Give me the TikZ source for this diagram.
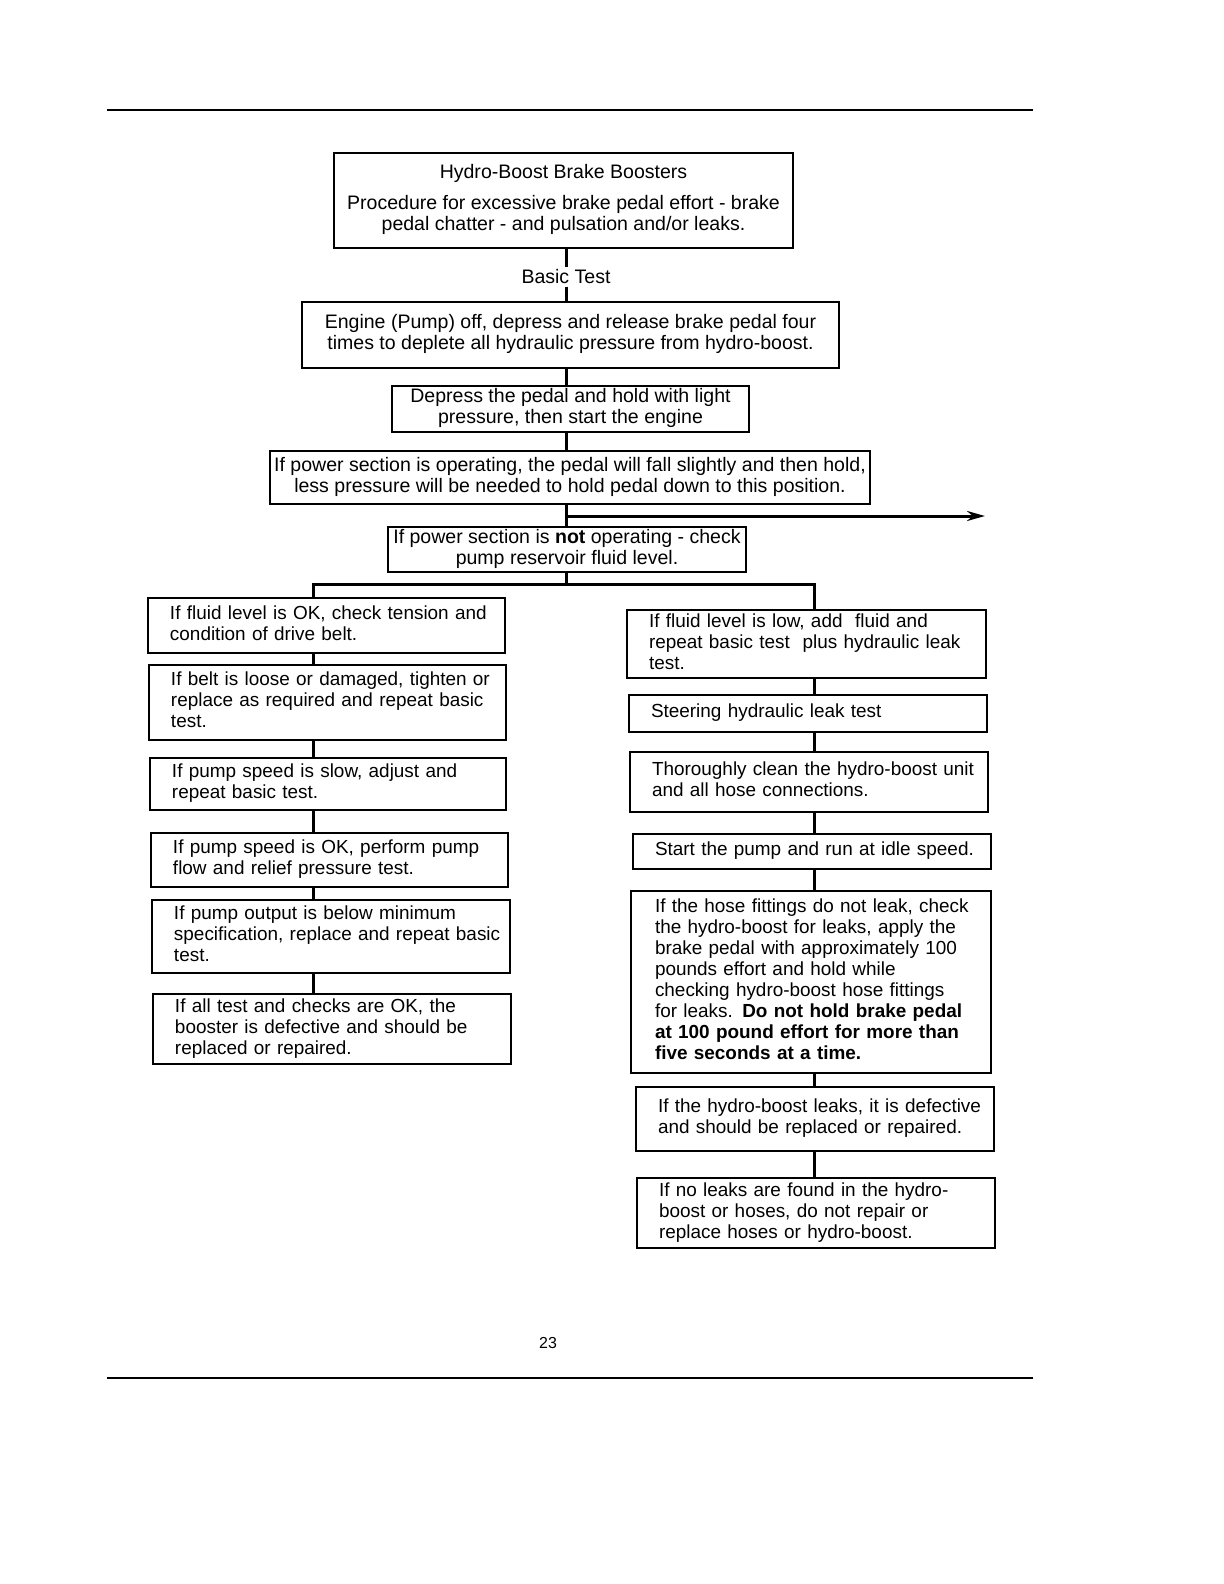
\documentclass[tikz,border=0pt]{standalone}
\usepackage{fontspec}
\setmainfont{Liberation Sans}
\usetikzlibrary{arrows.meta}
\newcommand{\fsz}{\fontsize{9.5}{10.5}\selectfont}
\newcommand{\fszc}{\fontsize{9.8}{10.5}\selectfont}
\newcommand{\tbl}[1]{\begin{tabular}{@{}l@{}}#1\end{tabular}}
\newcommand{\tbc}[1]{\begin{tabular}{@{}c@{}}#1\end{tabular}}
\tikzset{
  box/.style={draw, line width=0.8bp, inner sep=0pt, font=\fsz},
  lbox/.style={box, align=left},
  cbox/.style={box, align=center, font=\fszc},
  conn/.style={line width=1.5bp},
  rule/.style={line width=1bp},
}
\begin{document}
\begin{tikzpicture}[x=0.5bp,y=-0.5bp]
\useasboundingbox (0,0) rectangle (1224,1584);
% page rules
\coordinate (rt1) at (107,110); \coordinate (rt2) at (1033,110);
\coordinate (rb1) at (107,1378); \coordinate (rb2) at (1033,1378);
\draw[rule] (rt1) -- (rt2);
\draw[rule] (rb1) -- (rb2);
\node[font=\fontsize{8}{9}\selectfont] (pagenum) at (548,1343) {23};

% main column
\node[cbox, minimum width=229.5bp, minimum height=47.5bp] (title) at (563.5,200.5)
 {\tbc{Hydro-Boost Brake Boosters\\[5pt]Procedure for excessive brake pedal effort - brake\\pedal chatter - and pulsation and/or leaks.}};
\node[font=\fszc, inner sep=1pt] (basic) at (566,277) {Basic Test};
\node[cbox, minimum width=268.5bp, minimum height=33bp] (engine) at (570.5,335)
 {\tbc{Engine (Pump) off, depress and release brake pedal four\\times to deplete all hydraulic pressure from hydro-boost.}};
\node[cbox, minimum width=178.5bp, minimum height=23bp] (depress) at (570.5,409)
 {\tbc{Depress the pedal and hold with light\\pressure, then start the engine}};
\node[cbox, minimum width=300bp, minimum height=26.5bp] (power) at (570,477.5)
 {\tbc{If power section is operating, the pedal will fall slightly and then hold,\\less pressure will be needed to hold pedal down to this position.}};
\node[cbox, minimum width=179bp, minimum height=22.5bp] (notop) at (567,549.5)
 {\tbc{If power section is \textbf{not} operating - check\\pump reservoir fluid level.}};

% left column
\node[lbox, minimum width=178.5bp, minimum height=27.5bp, text width=156.5bp] (L1) at (326.5,625.5)
 {\tbl{If fluid level is OK, check tension and\\condition of drive belt.}};
\node[lbox, minimum width=178.5bp, minimum height=37.5bp, text width=156.5bp] (L2) at (327.5,702.5)
 {\tbl{If belt is loose or damaged, tighten or\\replace as required and repeat basic\\test.}};
\node[lbox, minimum width=178bp, minimum height=26bp, text width=156bp] (L3) at (328,784)
 {\tbl{If pump speed is slow, adjust and\\repeat basic test.}};
\node[lbox, minimum width=178.5bp, minimum height=27bp, text width=156.5bp] (L4) at (329.5,860)
 {\tbl{If pump speed is OK, perform pump\\flow and relief pressure test.}};
\node[lbox, minimum width=179bp, minimum height=36.5bp, text width=157bp] (L5) at (331,936.5)
 {\tbl{If pump output is below minimum\\specification, replace and repeat basic\\test.}};
\node[lbox, minimum width=179bp, minimum height=35bp, text width=157bp] (L6) at (332,1029)
 {\tbl{If all test and checks are OK, the\\booster is defective and should be\\replaced or repaired.}};

% right column
\node[lbox, minimum width=179.5bp, minimum height=34bp, text width=157.5bp] (R1) at (806.5,644)
 {\tbl{If fluid level is low, add~ fluid and\\repeat basic test~ plus hydraulic leak\\test.}};
\node[lbox, minimum width=179bp, minimum height=18.5bp, text width=157bp] (R2) at (808,713.5)
 {\tbl{Steering hydraulic leak test}};
\node[lbox, minimum width=179bp, minimum height=30bp, text width=157bp] (R3) at (809,782)
 {\tbl{Thoroughly clean the hydro-boost unit\\and all hose connections.}};
\node[lbox, minimum width=179bp, minimum height=17.5bp, text width=157bp] (R4) at (812,851.5)
 {\tbl{Start the pump and run at idle speed.}};
\node[lbox, minimum width=180bp, minimum height=91bp, text width=156bp] (R5) at (811,982)
 {\tbl{If the hose fittings do not leak, check\\the hydro-boost for leaks, apply the\\brake pedal with approximately 100\\pounds effort and hold while\\checking hydro-boost hose fittings\\for leaks. \textbf{Do not hold brake pedal}\\\textbf{at 100 pound effort for more than}\\\textbf{five seconds at a time.}}};
\node[lbox, minimum width=179bp, minimum height=32bp, text width=157bp] (R6) at (815,1119)
 {\tbl{If the hydro-boost leaks, it is defective\\and should be replaced or repaired.}};
\node[lbox, minimum width=179bp, minimum height=35bp, text width=157bp] (R7) at (816,1213)
 {\tbl{If no leaks are found in the hydro-\\boost or hoses, do not repair or\\replace hoses or hydro-boost.}};

% spine coordinates
\coordinate (mx) at (566,200);
\coordinate (lx) at (313,600);
\coordinate (rx) at (814,600);
\coordinate (bl) at (313,584);
\coordinate (brr) at (814,584);
\coordinate (ap) at (566,516);
\coordinate (aend) at (985,516);

% main connectors
\draw[conn] (title.south -| mx) -- (basic.north -| mx);
\draw[conn] (basic.south -| mx) -- (engine.north -| mx);
\draw[conn] (engine.south -| mx) -- (depress.north -| mx);
\draw[conn] (depress.south -| mx) -- (power.north -| mx);
\draw[conn] (power.south -| mx) -- (notop.north -| mx);
\draw[conn, -{Stealth[length=9bp,width=5bp]}] (ap) -- (aend);
\draw[conn] (notop.south -| mx) -- (bl -| mx);
\draw[conn] (L1.north -| lx) -- (bl) -- (brr) -- (R1.north -| rx);

% left connectors
\draw[conn] (L1.south -| lx) -- (L2.north -| lx);
\draw[conn] (L2.south -| lx) -- (L3.north -| lx);
\draw[conn] (L3.south -| lx) -- (L4.north -| lx);
\draw[conn] (L4.south -| lx) -- (L5.north -| lx);
\draw[conn] (L5.south -| lx) -- (L6.north -| lx);

% right connectors
\draw[conn] (R1.south -| rx) -- (R2.north -| rx);
\draw[conn] (R2.south -| rx) -- (R3.north -| rx);
\draw[conn] (R3.south -| rx) -- (R4.north -| rx);
\draw[conn] (R4.south -| rx) -- (R5.north -| rx);
\draw[conn] (R5.south -| rx) -- (R6.north -| rx);
\draw[conn] (R6.south -| rx) -- (R7.north -| rx);
\end{tikzpicture}
\end{document}
